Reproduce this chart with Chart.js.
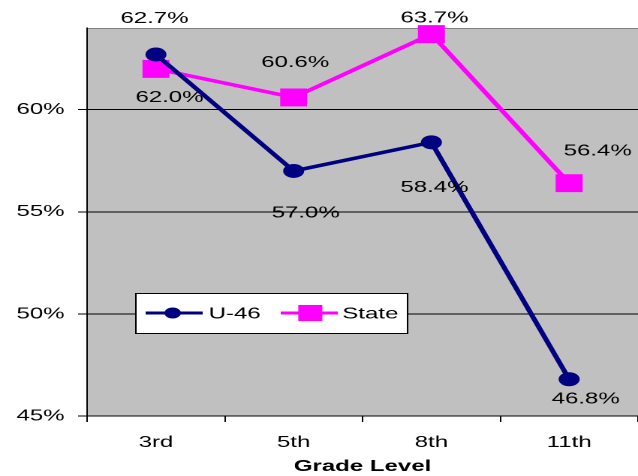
<!DOCTYPE html>
<html>
<head>
<meta charset="utf-8">
<script src="https://cdn.jsdelivr.net/npm/chart.js@4.4.0/dist/chart.umd.min.js"></script>
<style>
    body { margin: 0; background: #fff; }
</style>
</head>
<body>
<!-- the original picture is stretched sideways, so the canvas is drawn narrow and widened by its inline style -->
<canvas id="chart" width="425" height="476" style="width:638px;height:476px;display:block"></canvas>
<script>
const grades = ['3rd', '5th', '8th', '11th'];
const u46Values = [62.7, 57.0, 58.4, 46.8];
const stateValues = [62.0, 60.6, 63.7, 56.4];
const yTickValues = [45, 50, 55, 60];

// where each value label sits relative to its point
const u46LabelOffsets = [[-1, -36], [8, 42], [2, 45], [11, 20]];
const stateLabelOffsets = [[9, 29], [1, -35], [2, -16], [19, -32]];

const FONT = 'Liberation Sans, Arial, sans-serif';

const plotBackground = {
    id: 'plotBackground',
    beforeDraw(chart) {
        let ctx = chart.ctx;
        let a = chart.chartArea;
        ctx.save();
        ctx.fillStyle = '#C0C0C0';
        ctx.fillRect(a.left, a.top, a.right - a.left, a.bottom - a.top);
        ctx.strokeStyle = '#808080';
        ctx.lineWidth = 1;
        ctx.beginPath();
        ctx.moveTo(a.left, a.top + 0.5);
        ctx.lineTo(a.right, a.top + 0.5);
        ctx.stroke();
        ctx.restore();
    }
};

const valueLabels = {
    id: 'valueLabels',
    afterDatasetsDraw(chart) {
        let ctx = chart.ctx;
        let offsets = [u46LabelOffsets, stateLabelOffsets];
        ctx.save();
        ctx.font = '16px ' + FONT;
        ctx.fillStyle = '#000';
        ctx.textAlign = 'center';
        ctx.textBaseline = 'middle';
        chart.data.datasets.forEach(function(ds, i) {
            chart.getDatasetMeta(i).data.forEach(function(pt, j) {
                let off = offsets[i][j];
                ctx.fillText(ds.data[j].toFixed(1) + '%', pt.x + off[0], pt.y + off[1]);
            });
        });
        ctx.restore();
    }
};

const boxLegend = {
    id: 'boxLegend',
    afterDraw(chart) {
        let ctx = chart.ctx;
        let ds = chart.data.datasets;
        let y = 313;
        ctx.save();
        ctx.fillStyle = '#fff';
        ctx.fillRect(90.5, 293.5, 181, 40);
        ctx.strokeStyle = '#000';
        ctx.lineWidth = 1;
        ctx.strokeRect(90.5, 293.5, 181, 40);

        // U-46
        ctx.strokeStyle = ds[0].borderColor;
        ctx.lineWidth = 3;
        ctx.beginPath();
        ctx.moveTo(97, y);
        ctx.lineTo(135, y);
        ctx.stroke();
        ctx.fillStyle = ds[0].borderColor;
        ctx.beginPath();
        ctx.arc(115, y, 5.5, 0, Math.PI * 2);
        ctx.fill();

        // State
        ctx.strokeStyle = ds[1].borderColor;
        ctx.beginPath();
        ctx.moveTo(187, y);
        ctx.lineTo(225, y);
        ctx.stroke();
        ctx.fillStyle = ds[1].borderColor;
        ctx.fillRect(198.7, y - 8, 16, 16);

        ctx.fillStyle = '#000';
        ctx.font = '16px ' + FONT;
        ctx.textBaseline = 'middle';
        ctx.textAlign = 'left';
        ctx.fillText(ds[0].label, 139, y + 1);
        ctx.fillText(ds[1].label, 228, y + 1);
        ctx.restore();
    }
};

new Chart(document.getElementById('chart'), {
    type: 'line',
    data: {
        labels: grades,
        datasets: [{
            label: 'U-46',
            data: u46Values,
            borderColor: '#000080',
            backgroundColor: '#000080',
            borderWidth: 3.5,
            pointStyle: 'circle',
            pointRadius: 7,
            pointBorderWidth: 0,
            tension: 0,
            clip: false
        }, {
            label: 'State',
            data: stateValues,
            borderColor: '#FF00FF',
            backgroundColor: '#FF00FF',
            borderWidth: 3.5,
            pointStyle: 'rect',
            pointRadius: 12.7,
            pointBorderWidth: 0,
            tension: 0,
            clip: false
        }]
    },
    options: {
        responsive: false,
        devicePixelRatio: 2,
        animation: false,
        layout: { autoPadding: false, padding: { top: 28, right: 0, left: 0, bottom: 0 } },
        plugins: {
            legend: { display: false },
            tooltip: { enabled: false }
        },
        scales: {
            x: {
                offset: true,
                afterFit: function(scale) {
                    scale.height = 60;
                    scale.paddingLeft = 0;
                    scale.paddingRight = 0;
                },
                border: { color: '#000', width: 1 },
                grid: {
                    offset: true,
                    drawOnChartArea: false,
                    drawTicks: true,
                    tickLength: 6,
                    color: '#000'
                },
                ticks: {
                    color: '#000',
                    padding: 11,
                    font: { family: FONT, size: 16 }
                },
                title: {
                    display: true,
                    text: 'Grade Level',
                    color: '#000',
                    font: { family: FONT, size: 16, weight: 'bold' },
                    padding: { top: 0, bottom: 0 }
                }
            },
            y: {
                min: 45,
                max: 64,
                afterFit: function(scale) {
                    scale.width = 58;
                    scale.paddingTop = 0;
                    scale.paddingBottom = 0;
                },
                afterBuildTicks: function(scale) {
                    scale.ticks = yTickValues.map(function(v) { return { value: v }; });
                },
                border: { color: '#000', width: 1 },
                grid: {
                    color: '#000',
                    lineWidth: 1,
                    tickLength: 6
                },
                ticks: {
                    color: '#000',
                    padding: 9,
                    font: { family: FONT, size: 16 },
                    callback: function(v) { return v + '%'; }
                }
            }
        }
    },
    plugins: [plotBackground, valueLabels, boxLegend]
});
</script>
</body>
</html>
